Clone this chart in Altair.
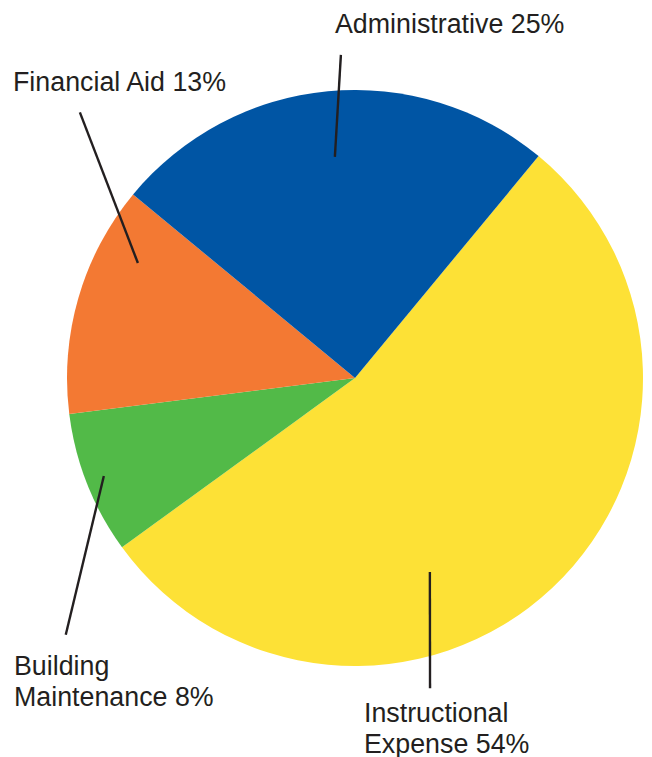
import math
import altair as alt
import pandas as pd

# ---- data ----
categories = ["Instructional Expense", "Building Maintenance", "Financial Aid", "Administrative"]
shares = [54, 8, 13, 25]
wrap_label = [True, True, False, False]

# ---- styling / layout ----
colors = ["#FDE136", "#52BA48", "#F37933", "#0055A4"]
CX, CY, R = 347, 370, 288
START_DEG = 39.6
inner_deg = [158.9, 248.7, 297.9, 354.8]
inner_r = [0.722, 0.936, 0.853, 0.771]
outer_deg = [166.4, 228.4, 314.0, 357.5]
outer_r = [1.108, 1.343, 1.328, 1.123]
label_x = [356, 6, 5, 327]
label_y = [714, 667, 83, 25]
INK = "#231F20"

labels = [
    (c.replace(" ", "\n", 1) if w else c) + f" {s}%"
    for c, s, w in zip(categories, shares, wrap_label)
]

df = pd.DataFrame({
    "category": categories,
    "share": shares,
    "ord": list(range(len(categories))),
})

ann = pd.DataFrame({
    "category": categories,
    "label": labels,
    "a1": inner_deg, "r1": inner_r,
    "a2": outer_deg, "r2": outer_r,
    "tx": label_x, "ty": label_y,
})

start = math.radians(START_DEG)

pie = alt.Chart(df).mark_arc(radius=R, stroke=None).encode(
    theta=alt.Theta("share:Q", stack=True,
                    scale=alt.Scale(range=[start, start + 2 * math.pi])),
    order=alt.Order("ord:Q"),
    color=alt.Color("category:N",
                    scale=alt.Scale(domain=categories, range=colors),
                    legend=None),
    x=alt.value(CX),
    y=alt.value(CY),
)

base_ann = alt.Chart(ann).transform_calculate(
    x1=f"{CX} + datum.r1 * {R} * sin(datum.a1 * PI / 180)",
    y1=f"{CY} - datum.r1 * {R} * cos(datum.a1 * PI / 180)",
    x2=f"{CX} + datum.r2 * {R} * sin(datum.a2 * PI / 180)",
    y2=f"{CY} - datum.r2 * {R} * cos(datum.a2 * PI / 180)",
)

leaders = base_ann.mark_rule(strokeWidth=2.4, color=INK).encode(
    x=alt.X("x1:Q", scale=None),
    y=alt.Y("y1:Q", scale=None),
    x2="x2:Q",
    y2="y2:Q",
)

texts = alt.Chart(ann).mark_text(
    align="left", baseline="alphabetic", fontSize=26.8,
    font="Liberation Sans", lineBreak="\n", lineHeight=31, color=INK,
).encode(
    x=alt.X("tx:Q", scale=None),
    y=alt.Y("ty:Q", scale=None),
    text="label:N",
)

chart = alt.layer(pie, leaders, texts).properties(
    width=636, height=749,
    autosize=alt.AutoSizeParams(type="none"),
    padding=0,
    background="white",
).configure_view(stroke=None)

chart.save("out.html", embed_options={"renderer": "svg", "actions": False})
